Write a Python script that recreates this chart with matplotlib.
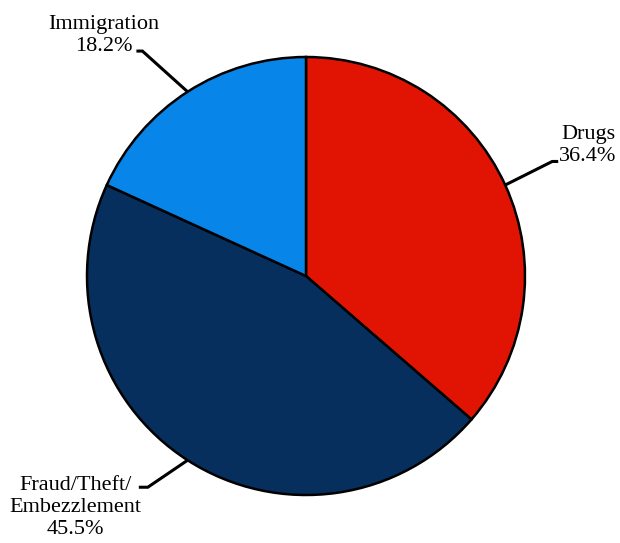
import numpy as np
import matplotlib
matplotlib.use("Agg")
import matplotlib.pyplot as plt

categories = ["Drugs", "Fraud/Theft/\nEmbezzlement", "Immigration"]
values = [36.4, 45.5, 18.2]
colors = ["#E11404", "#062F5E", "#0885E8"]

W, H = 620, 543
fig = plt.figure(figsize=(W / 100, H / 100), dpi=100)
ax = fig.add_axes([0, 0, 1, 1])

cx, cy, r = 306, H - 276, 219
wedges, _ = ax.pie(values, colors=colors, startangle=90, counterclock=False,
                   center=(cx, cy), radius=r, frame=True,
                   wedgeprops=dict(edgecolor="black", linewidth=1.8))
ax.set_xlim(0, W)
ax.set_ylim(0, H)
ax.set_aspect("equal")
ax.axis("off")

# label layout: elbow radial factor, elbow angle offset (deg), horizontal run, text anchor (last baseline)
layout = {
    0: dict(rf=1.24, da=0.4, run=6, tx=588, ty=H - 161),
    1: dict(rf=1.205, da=-4.1, run=-9, tx=75, ty=H - 534),
    2: dict(rf=1.27, da=3.3, run=-6, tx=104, ty=H - 51),
}

for i, (w, lab, v) in enumerate(zip(wedges, categories, values)):
    mid_deg = (w.theta1 + w.theta2) / 2
    mid = np.deg2rad(mid_deg)
    L = layout[i]
    x0, y0 = cx + r * np.cos(mid), cy + r * np.sin(mid)
    ea = np.deg2rad(mid_deg + L["da"])
    x1, y1 = cx + L["rf"] * r * np.cos(ea), cy + L["rf"] * r * np.sin(ea)
    x2 = x1 + L["run"]
    ax.plot([x0, x1, x2], [y0, y1, y1], color="black", lw=2.2,
            solid_capstyle="butt", solid_joinstyle="miter")
    ax.text(L["tx"], L["ty"], f"{lab}\n{v:.1f}%", ha="center", va="baseline",
            fontsize=16, family="Liberation Serif", linespacing=1.2,
            multialignment="center")

fig.savefig("out.png", dpi=100)
